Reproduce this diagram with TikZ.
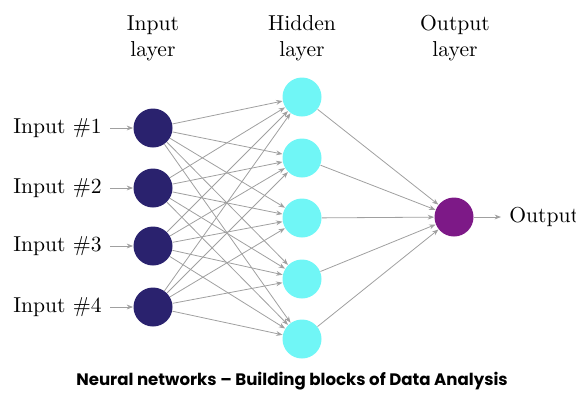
\documentclass[tikz,border=0pt]{standalone}
\usepackage{fontspec}
\newfontfamily\capfont{Poppins}
\usetikzlibrary{arrows.meta}
\definecolor{inblue}{RGB}{42,34,110}
\definecolor{hidcyan}{RGB}{112,246,246}
\definecolor{outpurple}{RGB}{125,25,135}
\definecolor{edgegray}{RGB}{160,160,160}
\tikzset{
  neuron/.style={circle,minimum size=19.5pt,inner sep=0pt},
  innode/.style={neuron,fill=inblue},
  hidnode/.style={neuron,fill=hidcyan},
  outnode/.style={neuron,fill=outpurple},
  conn/.style={draw=edgegray,line width=0.4pt,-{Stealth[length=3.2pt,width=2.4pt]}},
  lbl/.style={font=\fontsize{10.8}{13}\selectfont,inner sep=0pt},
  layerlbl/.style={lbl,align=center},
}
\begin{document}
\begin{tikzpicture}[x=0.5pt,y=-0.5pt]
\useasboundingbox (0,0) rectangle (576,403);
% layer labels
\node[layerlbl] (lin) at (153,38) {Input\\layer};
\node[layerlbl] (lhid) at (302,38) {Hidden\\layer};
\node[layerlbl] (lout) at (455,38) {Output\\layer};
% input nodes
\foreach \i/\y in {1/128,2/188,3/246,4/307}{
  \node[innode] (i\i) at (153,\y) {};
  \node[lbl,anchor=east] (t\i) at (102,\y) {Input \#\i};
  \draw[conn] (t\i.east) ++(4pt,0) coordinate (s\i) -- (i\i);
}
% hidden nodes
\foreach \j/\y in {1/97,2/158,3/218,4/279,5/339}{
  \node[hidnode] (h\j) at (302,\y) {};
}
\node[outnode] (o) at (454,217) {};
\node[lbl,anchor=west] (ot) at (509,217) {Output};
\foreach \i in {1,...,4}{
  \foreach \j in {1,...,5}{
    \draw[conn] (i\i) -- (h\j);
  }
}
\foreach \j in {1,...,5}{
  \draw[conn] (h\j) -- (o);
}
\draw[conn,shorten >=4pt] (o) -- (ot);
\node[font=\capfont\bfseries\fontsize{8.3}{10}\selectfont,inner sep=0pt] (cap) at (292,381) {Neural networks – Building blocks of Data Analysis};
\end{tikzpicture}
\end{document}
